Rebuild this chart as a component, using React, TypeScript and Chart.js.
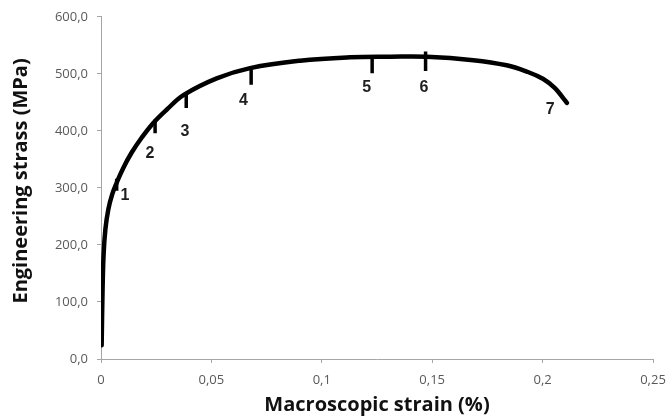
import React, { useEffect, useRef } from "react";
import { Chart, registerables } from "chart.js";

Chart.register(...registerables);

// Main stress–strain curve
const curveStrain = [0.0003, 0.0007, 0.0012, 0.002, 0.0033, 0.0051, 0.0071, 0.0101, 0.0139, 0.0184, 0.0237, 0.0297, 0.0375, 0.0524, 0.0675, 0.0901, 0.1128, 0.131, 0.1475, 0.1686, 0.1837, 0.1928, 0.2003, 0.2056, 0.2094, 0.211];
const curveStress = [24, 120, 185, 228, 262, 289, 309, 335, 362, 388, 414, 437, 463, 492, 510, 523, 529, 530, 530, 524, 515, 504, 491, 475, 457, 449];

// Unloading marks (short vertical drops)
const markStrain = [0.0071, 0.0245, 0.0386, 0.068, 0.1228, 0.147];
const markTop = [316, 420, 466, 508, 529, 539];
const markBottom = [295, 396, 440, 481, 501, 505];

// Numbered annotations
const labelText = ["1", "2", "3", "4", "5", "6", "7"];
const labelStrain = [0.0109, 0.0222, 0.038, 0.0645, 0.1203, 0.1463, 0.2034];
const labelStress = [286, 360, 398, 453, 476, 476, 438];

const xTickLabels = ["0", "0,05", "0,1", "0,15", "0,2", "0,25"];
const yTickLabels = ["0,0", "100,0", "200,0", "300,0", "400,0", "500,0", "600,0"];
const yTitle = "Engineering strass (MPa)";
const xTitle = "Macroscopic strain (%)";

const labelPlugin = {
  id: "pointLabels",
  afterDatasetsDraw(chart: any) {
    const { ctx, scales, chartArea } = chart;
    ctx.save();
    ctx.fillStyle = "#1e1e1e";
    ctx.font = "bold 16px 'Liberation Sans', Arial, sans-serif";
    ctx.textAlign = "center";
    ctx.textBaseline = "middle";
    labelText.forEach((t, i) => {
      ctx.fillText(t, scales.x.getPixelForValue(labelStrain[i]), scales.y.getPixelForValue(labelStress[i]));
    });
    ctx.restore();
    // y axis title
    ctx.save();
    ctx.fillStyle = "#111";
    ctx.font = "bold 20px 'Open Sans', sans-serif";
    ctx.textAlign = "center";
    ctx.textBaseline = "middle";
    ctx.translate(scales.y.left + 21, (chartArea.top + chartArea.bottom) / 2 - 7);
    ctx.rotate(-Math.PI / 2);
    ctx.fillText(yTitle, 0, 0);
    ctx.restore();
  },
};

export default function App() {
  const ref = useRef<HTMLCanvasElement>(null);
  useEffect(() => {
    if (!ref.current) return;
    const curve = curveStrain.map((x, i) => ({ x, y: curveStress[i] }));
    const marks: any[] = [];
    markStrain.forEach((x, i) => {
      marks.push({ x, y: markTop[i] });
      marks.push({ x, y: markBottom[i] });
      marks.push({ x, y: null });
    });
    const chart = new Chart(ref.current, {
      type: "line",
      data: {
        datasets: [
          {
            data: curve,
            borderColor: "#000",
            borderWidth: 4.5,
            pointRadius: 0,
            tension: 0.4,
            borderCapStyle: "round",
            borderJoinStyle: "round",
            fill: false,
          },
          {
            data: marks,
            borderColor: "#000",
            borderWidth: 3.5,
            pointRadius: 0,
            tension: 0,
            spanGaps: false,
            fill: false,
          },
        ],
      },
      options: {
        animation: false,
        responsive: false,
        maintainAspectRatio: false,
        layout: { padding: { top: 15, right: 14, left: 0, bottom: 0 } },
        plugins: { legend: { display: false }, tooltip: { enabled: false } },
        scales: {
          x: {
            type: "linear",
            min: 0,
            max: 0.25,
            afterFit: (s: any) => {
              s.height = 59;
              s.paddingLeft = 0;
              s.paddingRight = 0;
            },
            afterBuildTicks: (s: any) => {
              s.ticks = xTickLabels.map((_, i) => ({ value: i * 0.05 }));
            },
            ticks: {
              color: "#595959",
              font: { family: "'Open Sans', sans-serif", size: 13 },
              padding: 9,
              maxRotation: 0,
              callback: (_v: any, i: number) => xTickLabels[i],
            },
            grid: { drawOnChartArea: false, drawTicks: true, tickLength: 4, color: "#a6a6a6" },
            border: { color: "#a6a6a6", width: 1 },
            title: {
              display: true,
              text: xTitle,
              color: "#111",
              font: { family: "'Open Sans', sans-serif", size: 20, weight: "bold" },
              padding: { top: 0, bottom: 1 },
            },
          },
          y: {
            type: "linear",
            min: 0,
            max: 600,
            afterFit: (s: any) => { s.width = 101; },
            afterBuildTicks: (s: any) => {
              s.ticks = yTickLabels.map((_, i) => ({ value: i * 100 }));
            },
            ticks: {
              color: "#595959",
              font: { family: "'Open Sans', sans-serif", size: 13 },
              padding: 9,
              callback: (_v: any, i: number) => yTickLabels[i],
            },
            grid: { drawOnChartArea: false, drawTicks: true, tickLength: 4, color: "#a6a6a6" },
            border: { color: "#a6a6a6", width: 1 },
            title: { display: false },
          },
        },
      },
      plugins: [labelPlugin],
    });
    return () => chart.destroy();
  }, []);
  return (
    <div style={{ position: "fixed", left: 0, top: 0, width: 667, height: 418, background: "#fff" }}>
      <canvas ref={ref} width={667} height={418} style={{ width: 667, height: 418 }} />
    </div>
  );
}
